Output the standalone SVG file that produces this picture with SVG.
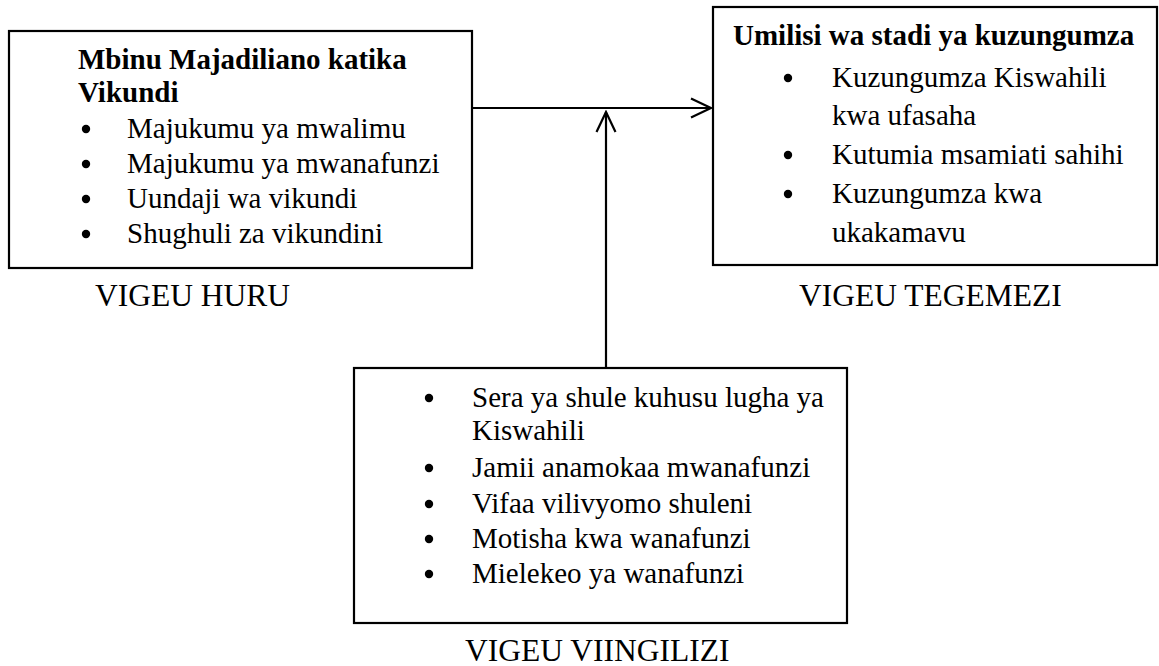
<svg xmlns="http://www.w3.org/2000/svg" width="1159" height="666" viewBox="0 0 1159 666">
<defs>
<marker id="arr" markerUnits="userSpaceOnUse" markerWidth="24" markerHeight="24" viewBox="-22 -12 24 24" refX="0" refY="0" orient="auto">
<path d="M-20,-9.5 L0,0 L-20,9.5" fill="none" stroke="#000" stroke-width="2.2"/>
</marker>
<style>
text{font-family:"Liberation Serif","Times New Roman",serif;fill:#000;}
.t{font-size:29px;}
.b{font-size:29px;font-weight:bold;}
.lbl{font-size:31.5px;}
.dot{fill:#000;}
.box{fill:#fff;stroke:#000;stroke-width:2.2;}
.con{fill:none;stroke:#000;stroke-width:2.2;}
</style>
</defs>
<rect width="1159" height="666" fill="#fff"/>
<g id="connectors">
<line class="con" x1="472" y1="108" x2="711" y2="108" marker-end="url(#arr)"/>
<line class="con" x1="606" y1="368" x2="606" y2="112" marker-end="url(#arr)"/>
</g>
<g id="node-huru">
<rect class="box" x="9" y="31" width="463" height="237"/>
<text class="b" x="78" y="69">Mbinu Majadiliano katika</text>
<text class="b" x="78" y="102">Vikundi</text>
<circle class="dot" cx="86" cy="129" r="4.2"/><text class="t" x="127" y="138">Majukumu ya mwalimu</text>
<circle class="dot" cx="86" cy="164" r="4.2"/><text class="t" x="127" y="173">Majukumu ya mwanafunzi</text>
<circle class="dot" cx="86" cy="199" r="4.2"/><text class="t" x="127" y="208">Uundaji wa vikundi</text>
<circle class="dot" cx="86" cy="234" r="4.2"/><text class="t" x="127" y="243">Shughuli za vikundini</text>
</g>
<g id="label-huru"><text class="lbl" x="95" y="306">VIGEU HURU</text></g>
<g id="node-tegemezi">
<rect class="box" x="713" y="7" width="444" height="258"/>
<text class="b" x="733" y="45">Umilisi wa stadi ya kuzungumza</text>
<circle class="dot" cx="788" cy="78" r="4.2"/><text class="t" x="832" y="87">Kuzungumza Kiswahili</text>
<text class="t" x="832" y="125">kwa ufasaha</text>
<circle class="dot" cx="788" cy="155" r="4.2"/><text class="t" x="832" y="164">Kutumia msamiati sahihi</text>
<circle class="dot" cx="788" cy="194" r="4.2"/><text class="t" x="832" y="203">Kuzungumza kwa</text>
<text class="t" x="832" y="242">ukakamavu</text>
</g>
<g id="label-tegemezi"><text class="lbl" x="799" y="306">VIGEU TEGEMEZI</text></g>
<g id="node-viingilizi">
<rect class="box" x="354" y="368" width="493" height="255"/>
<circle class="dot" cx="429" cy="398" r="4.2"/><text class="t" x="472" y="407">Sera ya shule kuhusu lugha ya</text>
<text class="t" x="472" y="440">Kiswahili</text>
<circle class="dot" cx="429" cy="468" r="4.2"/><text class="t" x="472" y="477">Jamii anamokaa mwanafunzi</text>
<circle class="dot" cx="429" cy="504" r="4.2"/><text class="t" x="472" y="513">Vifaa vilivyomo shuleni</text>
<circle class="dot" cx="429" cy="539" r="4.2"/><text class="t" x="472" y="548">Motisha kwa wanafunzi</text>
<circle class="dot" cx="429" cy="574" r="4.2"/><text class="t" x="472" y="583">Mielekeo ya wanafunzi</text>
</g>
<g id="label-viingilizi"><text class="lbl" x="465" y="661">VIGEU VIINGILIZI</text></g>
</svg>
